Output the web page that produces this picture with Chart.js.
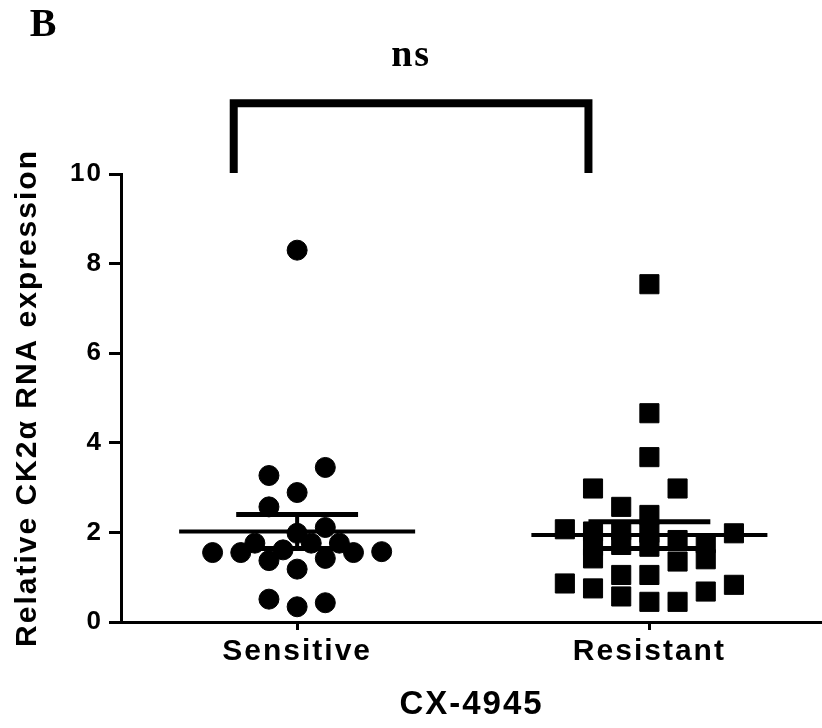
<!DOCTYPE html>
<html>
<head>
<meta charset="utf-8">
<script src="https://cdn.jsdelivr.net/npm/chart.js@4"></script>
<style>
  html, body { margin: 0; padding: 0; background: #fff; }
  #wrap { width: 822px; height: 728px; }
</style>
</head>
<body>
<div id="wrap"><canvas id="chart" width="822" height="728"></canvas></div>
<script>
// groups on the x axis
var categories = ['Sensitive', 'Resistant'];

// Sensitive group: horizontal jitter (in category units) and values
var sensJitter = [0, -0.08, 0.08, 0, -0.08, 0.08, 0, -0.12, 0.04, 0.12, -0.04,
                  -0.24, -0.16, 0.16, 0.24, -0.08, 0.08, 0, -0.08, 0, 0.08];
var sensValues = [8.30, 3.27, 3.45, 2.89, 2.57, 2.11, 1.98, 1.76, 1.76, 1.76, 1.61,
                  1.55, 1.55, 1.55, 1.57, 1.37, 1.42, 1.18, 0.51, 0.34, 0.43];

// Resistant group
var resJitter = [0, 0, 0, -0.16, 0.08, -0.08, 0, -0.24, 0.24, -0.16, -0.08, 0, 0.08,
                 0.16, 0.16, 0.08, -0.16, -0.16, -0.08, 0, -0.24, -0.16, -0.08, 0,
                 -0.08, 0, 0.08, 0.16, 0.24];
var resValues = [7.54, 4.66, 3.68, 2.98, 2.98, 2.57, 2.39, 2.07, 1.98, 2.02, 2.05, 1.99, 1.83,
                 1.76, 1.40, 1.35, 1.42, 1.70, 1.72, 1.68, 0.86, 0.75, 1.05, 1.05,
                 0.57, 0.45, 0.45, 0.68, 0.83];

// mean +/- SEM
var means   = [2.02, 1.94];
var semHigh = [2.40, 2.24];
var semLow  = [1.64, 1.64];

// significance bracket between the groups
var bracketX = [-0.18, 0.827];
var bracketY = [10.02, 11.58];
var bracketLabel = 'ns';

var yTicks = [0, 2, 4, 6, 8, 10];

function pts(center, jit, vals) {
  return vals.map(function (v, i) { return { x: center + jit[i], y: v }; });
}

function seg(x1, y1, x2, y2, width) {
  return {
    data: [{ x: x1, y: y1 }, { x: x2, y: y2 }],
    showLine: true, borderColor: '#000', borderWidth: width,
    pointRadius: 0, borderCapStyle: 'butt'
  };
}

var datasets = [
  { data: pts(0, sensJitter, sensValues), pointStyle: 'circle', pointRadius: 10,
    backgroundColor: '#000', borderColor: '#000', borderWidth: 1 },
  { data: pts(1, resJitter, resValues), pointStyle: 'rect', pointRadius: 13.5,
    backgroundColor: '#000', borderColor: '#000', borderWidth: 1 }
];

means.forEach(function (m, i) {
  datasets.push(seg(i - 0.335, m, i + 0.335, m, 4));
  datasets.push(seg(i - 0.173, semHigh[i], i + 0.173, semHigh[i], 5));
  datasets.push(seg(i - 0.173, semLow[i], i + 0.173, semLow[i], 5));
  datasets.push(seg(i, semLow[i], i, semHigh[i], 4));
});

datasets.push({
  data: [{ x: bracketX[0], y: bracketY[0] }, { x: bracketX[0], y: bracketY[1] },
         { x: bracketX[1], y: bracketY[1] }, { x: bracketX[1], y: bracketY[0] }],
  showLine: true, borderColor: '#000', borderWidth: 8, pointRadius: 0,
  borderJoinStyle: 'miter', clip: false
});

var spacing = {
  id: 'spacing',
  beforeUpdate: function (chart) { chart.ctx.letterSpacing = '2px'; },
  beforeDraw: function (chart) { chart.ctx.letterSpacing = '2px'; }
};

var labels = {
  id: 'labels',
  afterDraw: function (chart) {
    var ctx = chart.ctx;
    var xs = chart.scales.x, ys = chart.scales.y;
    ctx.save();
    ctx.fillStyle = '#000';
    ctx.textAlign = 'center';
    ctx.textBaseline = 'middle';
    ctx.font = 'bold 38px "Liberation Serif", "Times New Roman", serif';
    ctx.fillText(bracketLabel, xs.getPixelForValue((bracketX[0] + bracketX[1]) / 2), ys.getPixelForValue(12.62));
    ctx.font = 'bold 40px "Liberation Serif", "Times New Roman", serif';
    ctx.fillText('B', 44, 26);
    ctx.restore();
  }
};

var font = '"Liberation Sans", Arial, sans-serif';

new Chart(document.getElementById('chart'), {
  type: 'scatter',
  data: { datasets: datasets },
  plugins: [spacing, labels],
  options: {
    responsive: false,
    animation: false,
    events: [],
    layout: { autoPadding: false, padding: { top: 174, left: 0, right: 0, bottom: 0 } },
    plugins: { legend: { display: false }, tooltip: { enabled: false } },
    scales: {
      x: {
        type: 'linear', min: -0.5, max: 1.49,
        afterBuildTicks: function (axis) { axis.ticks = [{ value: 0 }, { value: 1 }]; },
        afterFit: function (axis) { axis.height = 106; },
        ticks: {
          color: '#000', padding: 4, maxRotation: 0,
          font: { family: font, size: 30, weight: 'bold' },
          callback: function (v) { return categories[v]; }
        },
        grid: { drawOnChartArea: false, drawTicks: true, tickLength: 8, tickColor: '#000', tickWidth: 3 },
        border: { display: true, color: '#000', width: 3 },
        title: { display: true, text: 'CX-4945', color: '#000', padding: { top: 0, bottom: 3 },
                 font: { family: font, size: 33, weight: 'bold' } }
      },
      y: {
        min: 0, max: 10,
        afterBuildTicks: function (axis) { axis.ticks = yTicks.map(function (v) { return { value: v }; }); },
        afterFit: function (axis) { axis.width = 121; },
        ticks: { color: '#000', padding: 6, font: { family: font, size: 26, weight: 'bold' } },
        grid: { drawOnChartArea: false, drawTicks: true, tickLength: 12, tickColor: '#000', tickWidth: 3 },
        border: { display: true, color: '#000', width: 3 },
        title: { display: true, text: 'Relative CK2α RNA expression', color: '#000',
                 padding: { top: 10, bottom: 0 },
                 font: { family: font, size: 30, weight: 'bold' } }
      }
    }
  }
});
</script>
</body>
</html>
